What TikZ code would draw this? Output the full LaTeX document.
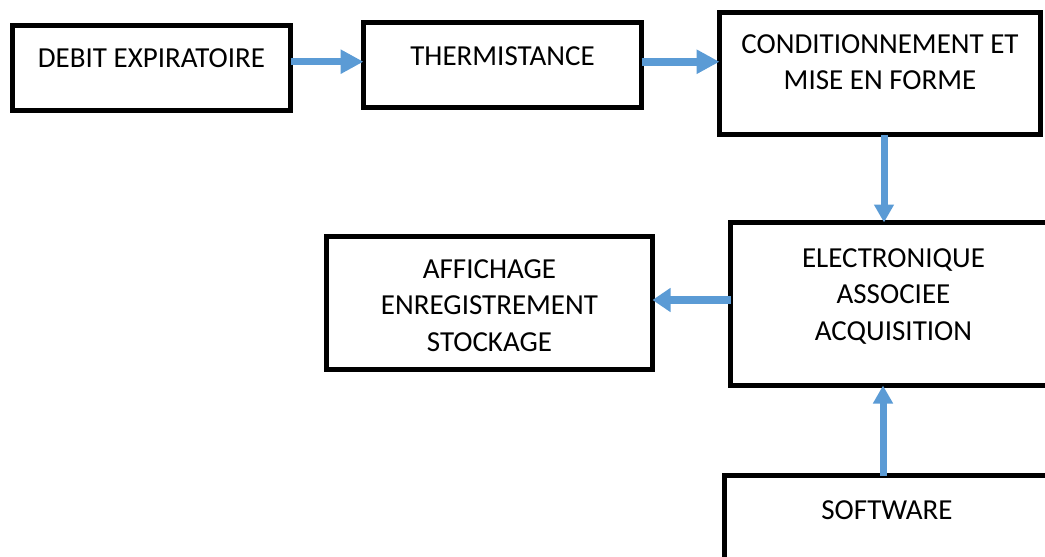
\documentclass[tikz,border=0pt]{standalone}
\usepackage{fontspec}
\setmainfont{Carlito}
\usepackage{tikz}
\usetikzlibrary{arrows.meta,positioning}

\definecolor{arrblue}{RGB}{91,155,213}

\begin{document}
\begin{tikzpicture}[
  x=1pt,y=-1pt,
  font=\fontsize{29}{36.5}\selectfont,
  blk/.style={draw,line width=5pt,outer sep=0pt,inner sep=0pt},
  lbl/.style={inner sep=0pt,anchor=north,align=center},
  arr/.style={line width=7.5pt,arrblue,-{Triangle[length=23pt,width=23pt]}},
  arrs/.style={line width=7pt,arrblue,-{Triangle[length=18pt,width=19pt]}}
]
\clip (0,0) rectangle (1045,557);

% ---- blocks ----
\node[blk,minimum width=278pt,minimum height=85pt]  (deb)   at (151.5,68)  {};
\node[blk,minimum width=278pt,minimum height=85.5pt] (therm) at (502.5,64.75) {};
\node[blk,minimum width=321pt,minimum height=122pt] (cond)  at (880,73.5)  {};
\node[blk,minimum width=326pt,minimum height=163pt] (elec)  at (893.5,304) {};
\node[blk,minimum width=326pt,minimum height=133pt] (aff)   at (489.5,303) {};
\node[blk,minimum width=325pt,minimum height=130pt] (soft)  at (887,540.5) {};

% ---- texts ----
\node[lbl,below=22.8pt of deb.north]   (debtxt)   {DEBIT EXPIRATOIRE};
\node[lbl,below=24pt of therm.north]   (thermtxt) {THERMISTANCE};
\node[lbl,below=21.5pt of cond.north]  (condtxt)  {CONDITIONNEMENT ET\\MISE EN FORME};
\node[lbl,below=25.8pt of elec.north]  (electxt)  {ELECTRONIQUE\\ASSOCIEE\\ACQUISITION};
\node[lbl,below=22.8pt of aff.north]   (afftxt)   {AFFICHAGE\\ENREGISTREMENT\\STOCKAGE};
\node[lbl,below=24.5pt of soft.north]  (softtxt)  {SOFTWARE};

% ---- arrows ----
\draw[arr] ([yshift=6.3pt]deb.east) -- ([yshift=6.3pt]deb.east -| therm.west);
\draw[arr] ([yshift=3pt]therm.east) -- ([yshift=3pt]therm.east -| cond.west);
\draw[arrs] ([xshift=4pt]cond.south) -- ([xshift=4pt]cond.south |- elec.north);
\draw[arr,-{Triangle[length=18pt,width=23pt]}] ([yshift=4pt]elec.west) -- ([yshift=4pt]elec.west -| aff.east);
\draw[arrs] ([xshift=-4pt]soft.north) -- ([xshift=-4pt]soft.north |- elec.south);
\end{tikzpicture}
\end{document}
